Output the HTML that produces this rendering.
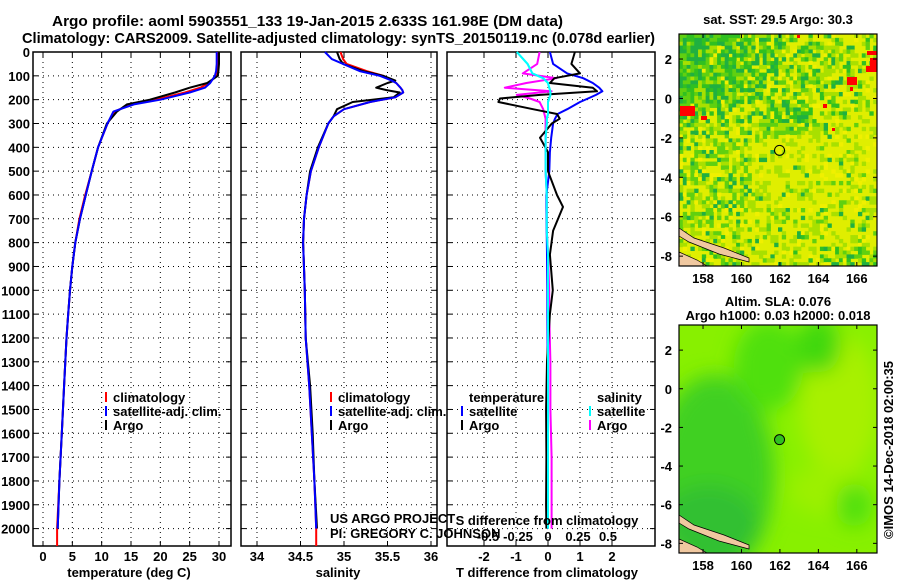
<!DOCTYPE html>
<html><head><meta charset="utf-8"><style>
html,body{margin:0;padding:0;background:#fff}
svg{display:block;font-family:"Liberation Sans",sans-serif}
.b{font-weight:bold;font-size:15px}
.t{font-weight:bold;font-size:13px}
</style></head><body>
<svg id="c" width="900" height="580">
<text class="b" x="52" y="26" textLength="511" lengthAdjust="spacingAndGlyphs">Argo profile: aoml 5903551_133 19-Jan-2015 2.633S 161.98E (DM data)</text>
<text class="b" x="22" y="43" textLength="633" lengthAdjust="spacingAndGlyphs">Climatology: CARS2009. Satellite-adjusted climatology: synTS_20150119.nc (0.078d earlier)</text>
<g id="g"></g>
</svg>
<script>
// ---- data ----
const depths = [0,50,80,100,130,150,170,200,220,250,300,400,500,600,700,800,900,1000,1100,1200,1400,1600,1800,2000];
const tempArgo = [30.0,30.0,29.9,29.8,28.0,25.0,22.5,18.2,14.3,12.6,10.9,9.4,8.3,7.3,6.3,5.5,5.0,4.6,4.3,4.0,3.6,3.2,2.8,2.5];
const tempSat  = [29.6,29.6,29.5,29.3,28.5,27.6,25.0,20.0,15.5,12.0,11.0,9.4,8.3,7.3,6.3,5.5,5.0,4.6,4.3,4.0,3.6,3.2,2.8,2.5];
const tempClim = [29.8,29.8,29.7,29.5,28.3,26.8,24.2,19.2,15.0,12.2,11.0,9.4,8.3,7.2,6.2,5.5,5.0,4.6,4.3,4.0,3.6,3.2,2.8,2.4];
const salDepths = [0,30,50,80,100,120,130,150,160,170,190,210,240,270,300,400,500,600,700,800,1000,1200,1400,1600,1800,2000];
const salArgo = [34.92,34.95,34.99,35.22,35.45,35.59,35.50,35.37,35.49,35.64,35.57,35.10,34.92,34.88,34.82,34.70,34.61,34.57,34.54,34.53,34.55,34.56,34.61,34.64,34.66,34.69];
const salSat  = [34.78,34.86,34.99,35.18,35.41,35.55,35.60,35.65,35.67,35.68,35.59,35.30,35.00,34.88,34.82,34.71,34.62,34.57,34.54,34.53,34.55,34.56,34.60,34.63,34.66,34.68];
const salClim = [34.96,34.99,35.03,35.26,35.45,35.55,35.60,35.65,35.67,35.68,35.59,35.30,35.00,34.88,34.82,34.71,34.62,34.57,34.54,34.53,34.55,34.56,34.60,34.63,34.66,34.68];
const dDepths = [0,50,90,110,130,150,165,180,195,210,240,260,280,300,360,420,500,600,650,750,850,1000,1100,1300,1500,1700,1900,2000];
const dTArgo = [0.84,0.73,1.0,0.2,0.06,1.4,1.53,-0.25,-1.5,-1.55,-0.47,0.28,0.37,0.12,-0.25,0,0,0.28,0.47,0.16,0.06,0.15,0.06,-0.03,-0.06,-0.05,-0.06,-0.05];
const dTSat  = [0.06,0.16,0.6,1.1,1.4,1.6,1.7,1.5,1.25,1.0,0.6,0.3,0.22,0.16,0.1,0.06,0.04,-0.05,-0.05,-0.04,-0.03,-0.02,-0.02,-0.01,0,0,0,0];
const dSArgo = [-0.07,-0.09,-0.21,0.07,-0.18,-0.36,0.03,-0.26,-0.15,-0.07,-0.04,-0.03,-0.02,-0.02,-0.02,-0.02,-0.02,-0.01,-0.01,-0.01,0,0.01,0.01,0.02,0.02,0.03,0.03,0.03];
const dSSat  = [-0.26,-0.17,-0.13,-0.04,0.0,0.01,0.02,0.02,0.01,0.0,0.0,0.0,-0.01,-0.01,-0.02,-0.02,-0.02,-0.01,-0.01,-0.01,0,0,0,0,0,0,0,0];
const depthTicks = [0,100,200,300,400,500,600,700,800,900,1000,1100,1200,1300,1400,1500,1600,1700,1800,1900,2000];
const tTicks = [0,5,10,15,20,25,30];
const sTicks = [34,34.5,35,35.5,36];
const dtTicks = [-2,-1,0,1,2];
const dsTicks = [-0.5,-0.25,0,0.25,0.5];
const lonTicks = [158,160,162,164,166];
const latTicks = [2,0,-2,-4,-6,-8];

const NS="http://www.w3.org/2000/svg";
const G=document.getElementById('g');
function el(tag,attrs,parent){const e=document.createElementNS(NS,tag);for(const k in attrs)e.setAttribute(k,attrs[k]);(parent||G).appendChild(e);return e;}
function txt(s,x,y,cls,anchor,parent){const e=el('text',{x:x,y:y,'class':cls||'t','text-anchor':anchor||'start'},parent);e.textContent=s;return e;}

const top0=52, bot=546;
const yD=d=>top0+d*0.2383;
function lin(d0,r0,d1,r1){return v=>r0+(v-d0)*(r1-r0)/(d1-d0);}

function panel(name,x0,x1,xs,ticks,fmt,showY){
  const g=el('g',{});
  
  
  depthTicks.forEach(d=>{const y=yD(d);
    const l=el('line',{x1:x0,x2:x1,y1:y,y2:y,stroke:'#000','stroke-width':1,'stroke-dasharray':'1 4'},g);
    
    el('line',{x1:x0,x2:x0+5,y1:y,y2:y,stroke:'#000'},g);el('line',{x1:x1-5,x2:x1,y1:y,y2:y,stroke:'#000'},g);
    if(showY){const t=txt(String(d),30,y+5,'t','end',g);}
  });
  ticks.forEach(v=>{const x=xs(v);
    const l=el('line',{x1:x,x2:x,y1:top0,y2:bot,stroke:'#000','stroke-dasharray':'1 4'},g);
    
    el('line',{x1:x,x2:x,y1:bot-5,y2:bot,stroke:'#000'},g);el('line',{x1:x,x2:x,y1:top0,y2:top0+5,stroke:'#000'},g);
    if(fmt){const t=txt(fmt(v),x,561,'t','middle',g);}
  });
  el('rect',{x:x0,y:top0,width:x1-x0,height:bot-top0,fill:'none',stroke:'#000','stroke-width':1.5},g);
  return g;
}
function series(name,ds,vs,xs,color,g,ext){
  let pts=ds.map((d,i)=>xs(vs[i]).toFixed(1)+','+yD(d).toFixed(1));
  if(ext){pts.push(xs(vs[vs.length-1]).toFixed(1)+','+bot);}
  const p=el('polyline',{points:pts.join(' '),fill:'none',stroke:color,'stroke-width':2,'stroke-linejoin':'round'},g);
  
  
}
function legend(items,x,y,g){
  items.forEach((it,i)=>{const yy=y+i*14;
    el('line',{x1:x,x2:x,y1:yy-10,y2:yy,stroke:it[1],'stroke-width':2},g);
    const t=txt(it[0],x+7,yy,'t','start',g);
    
    
  });
}

// panel 1 temperature
const xT=lin(0,43,30,219);
const p1=panel('temperature-panel',33,231,xT,tTicks,v=>String(v),true);
series('temp-climatology-line',depths,tempClim,xT,'#f00',p1,true);
series('temp-argo-line',depths,tempArgo,xT,'#000',p1,false);
series('temp-satellite-line',depths,tempSat,xT,'#00f',p1,false);
legend([['climatology','#f00'],['satellite-adj. clim.','#00f'],['Argo','#000']],106,402,p1);
txt('temperature (deg C)',129,577,'t','middle',p1);

// panel 2 salinity
const xS=lin(34,257,36,431);
const p2=panel('salinity-panel',241,437,xS,sTicks,v=>String(v),false);
series('sal-climatology-line',salDepths,salClim,xS,'#f00',p2,true);
series('sal-argo-line',salDepths,salArgo,xS,'#000',p2,false);
series('sal-satellite-line',salDepths,salSat,xS,'#00f',p2,false);
legend([['climatology','#f00'],['satellite-adj. clim.','#00f'],['Argo','#000']],331,402,p2);
txt('salinity',338,577,'t','middle',p2);
const us=txt('US ARGO PROJECT',330,523,'t','start',p2);us.setAttribute('font-weight','normal');
const pi=txt('PI: GREGORY C. JOHNSON',330,538,'t','start',p2);pi.setAttribute('font-weight','normal');

// panel 3 differences
const xdT=lin(0,548,2,612), xdS=lin(0,548,0.5,608);
const p3=panel('difference-panel',447,655,xdT,dtTicks,v=>String(v),false);
series('dS-satellite-line',dDepths,dSSat,xdS,'#0ff',p3,false);
series('dS-argo-line',dDepths,dSArgo,xdS,'#f0f',p3,false);
series('dT-satellite-line',dDepths,dTSat,xdT,'#00f',p3,false);
series('dT-argo-line',dDepths,dTArgo,xdT,'#000',p3,false);
series('dS-satellite-line-front',dDepths,dSSat,xdS,'#0ff',p3,false);
txt('temperature',469,402,'t','start',p3);
txt('salinity',597,402,'t','start',p3);
legend([['satellite','#00f'],['Argo','#000']],462,416,p3);
legend([['satellite','#0ff'],['Argo','#f0f']],590,416,p3);
txt('S difference from climatology',547,525,'t','middle',p3);
dsTicks.forEach(v=>{const t=txt(String(v),xdS(v),541,'t','middle',p3);});
txt('T difference from climatology',547,577,'t','middle',p3);

// ---- maps ----
const redPatches=[[680,106,15,10],[701,116,6,4],[847,77,10,8],[850,87,3,4],[867,51,10,4],[870,58,7,14],[866,66,4,6],[823,104,4,4],[832,128,3,3],[797,35,3,3]];
function map(name,x0,y0,x1,y1,title,lat0,lat1,kind){
  const g=el('g',{});
  
  
  const lx=lin(156.75,x0,167.05,x1), ly=lin(lat0,y0,lat1,y1);
  const clip='clip'+name;
  const cp=el('clipPath',{id:clip},g);el('rect',{x:x0,y:y0,width:x1-x0,height:y1-y0},cp);
  const mg=el('g',{'clip-path':'url(#'+clip+')'},g);
  if(kind==='sst'){
    el('rect',{x:x0,y:y0,width:x1-x0,height:y1-y0,fill:'#e0ee00'},mg);
    const cw=(x1-x0)/52,chh=(y1-y0)/60;
    for(let r=0;r<60;r++)for(let c=0;c<52;c++){
      const fx=c/52,fy=r/60;
      let p=0;
      if(fy<0.3) p=0.85-fx*0.75;
      else if(fy<0.42) p=0.45-fx*0.4+(Math.abs(fx-0.55)<0.12?0.4:0);
      else if(fy<0.75) p=fx<0.35?0.35:0.06;
      else p=fx<0.3?0.3:(fx>0.7&&fy>0.9?0.45:0.12);
      const h=(((r+7)*73856093)^((c+3)*19349663))>>>0;const u=(h%1000)/1000;
      let col=null;
      if(u<p) col=(h>>10)%3===0?'#20b040':((h>>10)%3===1?'#30c020':'#60d010');
      else if(u<p+0.2) col='#a8e000';
      else if(u>0.93) col='#f0f000';
      if(col) el('rect',{x:x0+c*cw,y:y0+r*chh,width:cw+0.5,height:chh+0.5,fill:col},mg);
    }
    redPatches.forEach(a=>{el('rect',{x:a[0],y:a[1],width:a[2],height:a[3],fill:'#f00'},mg);});
  } else {
    el('rect',{x:x0,y:y0,width:x1-x0,height:y1-y0,fill:'#88f000'},mg);
    const f=el('filter',{id:'bl'+name},g);el('feGaussianBlur',{stdDeviation:10},f);
    const bg=el('g',{filter:'url(#bl'+name+')'},mg);
    el('ellipse',{cx:x0+35,cy:y0+150,rx:60,ry:100,fill:'#40d020'},bg);
    el('ellipse',{cx:x0+30,cy:y0+200,rx:50,ry:40,fill:'#30c030'},bg);
    el('ellipse',{cx:x0+90,cy:y0+40,rx:35,ry:45,fill:'#50e010'},bg);
    el('ellipse',{cx:x0+160,cy:y0+80,rx:40,ry:70,fill:'#a8f000'},bg);
    el('ellipse',{cx:x0+150,cy:y0+165,rx:40,ry:25,fill:'#9cf000'},bg);
    el('ellipse',{cx:x0+175,cy:y0+180,rx:18,ry:22,fill:'#50e010'},bg);
    el('ellipse',{cx:x0+140,cy:y0+20,rx:22,ry:28,fill:'#40d810'},bg);
  }
  el('path',{d:`M${x0} ${y1-38} L${x0+15} ${y1-28} L${x0+45} ${y1-18} L${x0+70} ${y1-8} L${x0+70} ${y1-4} L${x0+40} ${y1-12} L${x0+10} ${y1-24} L${x0} ${y1-30}Z`,fill:'#f0c8a0',stroke:'#000','stroke-width':0.7},mg);
  el('path',{d:`M${x0} ${y1-14} L${x0+18} ${y1-6} L${x0+28} ${y1} L${x0} ${y1}Z`,fill:'#f0c8a0',stroke:'#000','stroke-width':0.7},mg);
  el('rect',{x:x0,y:y0,width:x1-x0,height:y1-y0,fill:'none',stroke:'#000','stroke-width':1.2},g);
  const m=el('circle',{cx:lx(161.98),cy:ly(-2.633),r:5,fill:kind==='sst'?'none':'#30c020',stroke:'#000','stroke-width':1},g);
  
  lonTicks.forEach(v=>{const x=lx(v);el('line',{x1:x,x2:x,y1:y1,y2:y1-4,stroke:'#000'},g);el('line',{x1:x,x2:x,y1:y0,y2:y0+4,stroke:'#000'},g);
    const t=txt(String(v),x,y1+17,'t','middle',g);});
  latTicks.forEach(v=>{const y=ly(v);el('line',{x1:x0,x2:x0+4,y1:y,y2:y,stroke:'#000'},g);el('line',{x1:x1-4,x2:x1,y1:y,y2:y,stroke:'#000'},g);
    const t=txt(String(v),672,y+5,'t','end',g);});
  title.forEach((s,i)=>{const t=txt(s,778,(kind==='sst'?24:y0-19)+i*14,'t','middle',g);});
}
map('sst-map',679,34,877,266,['sat. SST: 29.5 Argo: 30.3'],3.27,-8.5,'sst');
map('sla-map',679,325,877,553,['Altim. SLA: 0.076','Argo h1000: 0.03 h2000: 0.018'],3.3,-8.5,'sla');
const im=txt('©IMOS 14-Dec-2018 02:00:35',0,0,'t','middle');
im.setAttribute('font-weight','normal');
im.setAttribute('transform','translate(893,450) rotate(-90)');

</script>
</body></html>
